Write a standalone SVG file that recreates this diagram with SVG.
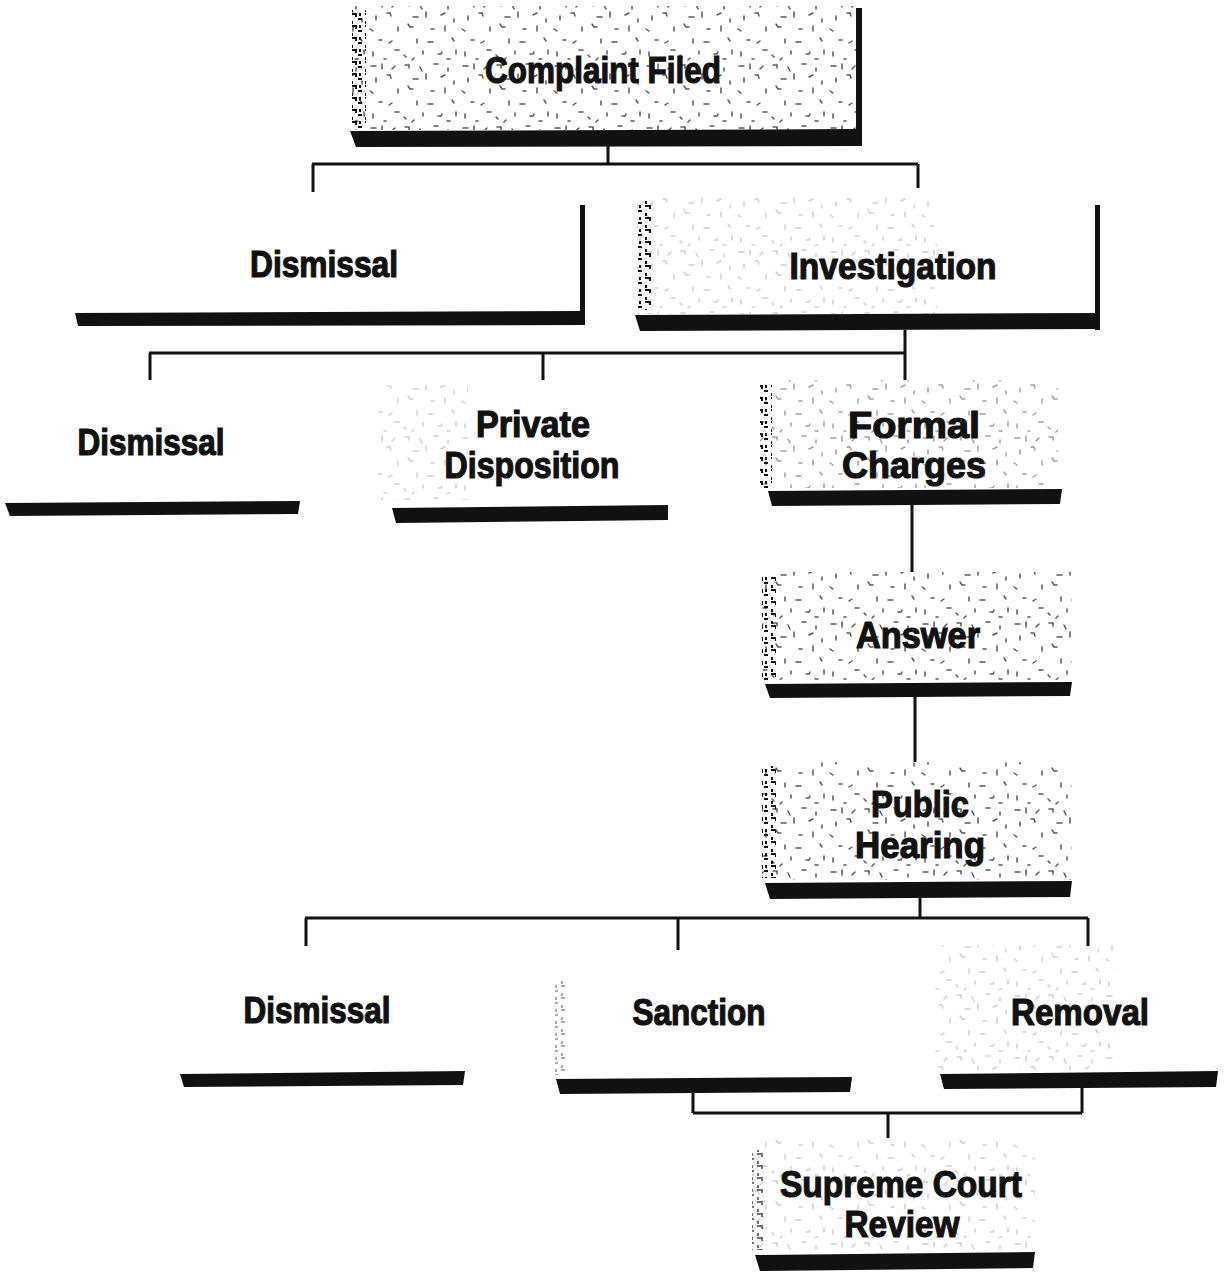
<svg xmlns="http://www.w3.org/2000/svg" width="1224" height="1277" viewBox="0 0 1224 1277">
  <defs>
    <!-- grainy halftone speckle used as box fill -->
    <pattern id="speck" width="92" height="62" patternUnits="userSpaceOnUse">
      <g stroke="#111" stroke-width="1.5" fill="none" stroke-linecap="round">
        <path d="M3 4h5M14 2v5M24 7l3-3M37 3h4v3M52 5l2 4M66 2h4M80 6v3"/>
        <path d="M8 16v4M19 13h3l1 3M45 17h5M58 12v5M73 15l4-2M86 19v3"/>
        <path d="M2 29l3 2M30 27v4M40 24l2 3h3M63 29h3M77 26v5"/>
        <path d="M11 40h3M21 43l3-2M49 39v4M60 42h5M84 38l2 3"/>
        <path d="M5 52v4M27 50h4M36 55l2 2M55 51v3M70 54h3l1-2M88 50v4"/>
        <path d="M16 59h2M44 60l2-2M79 59h3"/>
      </g>
    </pattern>
    <pattern id="edge" width="14" height="12" patternUnits="userSpaceOnUse">
      <g stroke="#111" stroke-width="2" fill="none">
        <path d="M1 2h5v3M8 7h4M2 9v3M10 1v3"/>
      </g>
    </pattern>
  </defs>
  <style>
    .lbl { font-family: "Liberation Sans", Arial, sans-serif; font-weight: bold; font-size: 37px; fill: #111; stroke: #111; stroke-width: 1.2px; text-anchor: middle; }
    .bar { fill: #111; }
    .heavy { fill: url(#speck); opacity: 0.7; }
    .mid { fill: url(#speck); opacity: 0.4; }
    .light { fill: url(#speck); opacity: 0.2; }
    .edgeS { fill: url(#edge); }
    .wire { stroke: #111; stroke-width: 3; fill: none; }
  </style>

  <rect width="1224" height="1277" fill="#fff"/>

  <!-- connectors -->
  <g id="connectors" class="wire">
    <path d="M608 146V164M312 164H918M313 164V192M918 164V188"/>
    <path d="M905 330V353M149 353H905M150 353V380M543 353V380M905 353V380"/>
    <path d="M912 505V572"/>
    <path d="M915 697V762"/>
    <path d="M920 898V918M305 918H1088M306 918V946M678 918V950M1088 918V946"/>
    <path d="M693 1093V1113M1082 1088V1113M693 1113H1082M888 1113V1138"/>
  </g>

  <g id="complaint-filed">
    <rect x="352" y="6" width="506" height="124" class="heavy"/>
    <rect x="352" y="10" width="14" height="118" class="edgeS"/>
    <path class="bar" d="M856 8h6v138h-6z"/>
    <path class="bar" d="M350 131L862 129L862 146L356 147Z"/>
    <text class="lbl" x="603" y="83" font-size="40" textLength="236" lengthAdjust="spacingAndGlyphs">Complaint Filed</text>
  </g>

  <g id="dismissal-1">
    <path class="bar" d="M580 205h5v120h-5z"/>
    <path class="bar" d="M75 313L585 311L585 325L78 326Z"/>
    <text class="lbl" x="324" y="277" textLength="148" lengthAdjust="spacingAndGlyphs">Dismissal</text>
  </g>

  <g id="investigation">
    <rect x="637" y="196" width="300" height="118" class="light"/>
    <rect x="637" y="200" width="14" height="110" class="edgeS"/>
    <path class="bar" d="M1095 205h5v125h-5z"/>
    <path class="bar" d="M635 315L1100 313L1100 329L640 331Z"/>
    <text class="lbl" x="893" y="279" textLength="207" lengthAdjust="spacingAndGlyphs">Investigation</text>
  </g>

  <g id="dismissal-2">
    <path class="bar" d="M5 503L300 501L298 514L10 516Z"/>
    <text class="lbl" x="151" y="455" textLength="147" lengthAdjust="spacingAndGlyphs">Dismissal</text>
  </g>

  <g id="private-disposition">
    <rect x="378" y="385" width="90" height="115" class="light"/>
    <path class="bar" d="M392 508L668 505L668 520L396 523Z"/>
    <text class="lbl" x="533" y="437" textLength="114" lengthAdjust="spacingAndGlyphs">Private</text>
    <text class="lbl" x="532" y="478" textLength="175" lengthAdjust="spacingAndGlyphs">Disposition</text>
  </g>

  <g id="formal-charges">
    <rect x="760" y="380" width="298" height="108" class="mid"/>
    <rect x="760" y="384" width="12" height="104" class="edgeS"/>
    <path class="bar" d="M768 491L1062 489L1060 504L772 506Z"/>
    <text class="lbl" x="914" y="438" textLength="132" lengthAdjust="spacingAndGlyphs">Formal</text>
    <text class="lbl" x="914" y="478" textLength="144" lengthAdjust="spacingAndGlyphs">Charges</text>
  </g>

  <g id="answer">
    <rect x="762" y="572" width="310" height="108" class="heavy"/>
    <rect x="762" y="576" width="14" height="104" class="edgeS"/>
    <path class="bar" d="M765 684L1072 682L1070 696L770 698Z"/>
    <text class="lbl" x="918" y="648" textLength="124" lengthAdjust="spacingAndGlyphs">Answer</text>
  </g>

  <g id="public-hearing">
    <rect x="762" y="762" width="310" height="118" class="heavy"/>
    <rect x="762" y="766" width="14" height="112" class="edgeS"/>
    <path class="bar" d="M765 883L1072 881L1070 897L770 899Z"/>
    <text class="lbl" x="920" y="817" textLength="98" lengthAdjust="spacingAndGlyphs">Public</text>
    <text class="lbl" x="920" y="858" textLength="130" lengthAdjust="spacingAndGlyphs">Hearing</text>
  </g>

  <g id="dismissal-3">
    <path class="bar" d="M180 1074L465 1071L463 1085L184 1087Z"/>
    <text class="lbl" x="317" y="1023" textLength="147" lengthAdjust="spacingAndGlyphs">Dismissal</text>
  </g>

  <g id="sanction">
    <rect x="555" y="980" width="10" height="95" class="edgeS" opacity="0.35"/>
    <path class="bar" d="M556 1079L852 1077L850 1092L560 1094Z"/>
    <text class="lbl" x="699" y="1025" textLength="133" lengthAdjust="spacingAndGlyphs">Sanction</text>
  </g>

  <g id="removal">
    <rect x="935" y="945" width="180" height="125" class="light"/>
    <path class="bar" d="M940 1074L1218 1071L1216 1087L944 1089Z"/>
    <text class="lbl" x="1080" y="1025" textLength="138" lengthAdjust="spacingAndGlyphs">Removal</text>
  </g>

  <g id="supreme-court-review">
    <rect x="752" y="1140" width="283" height="112" class="light"/>
    <rect x="752" y="1150" width="12" height="100" class="edgeS" opacity="0.6"/>
    <path class="bar" d="M755 1255L1035 1252L1033 1268L760 1271Z"/>
    <text class="lbl" x="901" y="1197" textLength="242" lengthAdjust="spacingAndGlyphs">Supreme Court</text>
    <text class="lbl" x="902" y="1237" textLength="115" lengthAdjust="spacingAndGlyphs">Review</text>
  </g>
</svg>
